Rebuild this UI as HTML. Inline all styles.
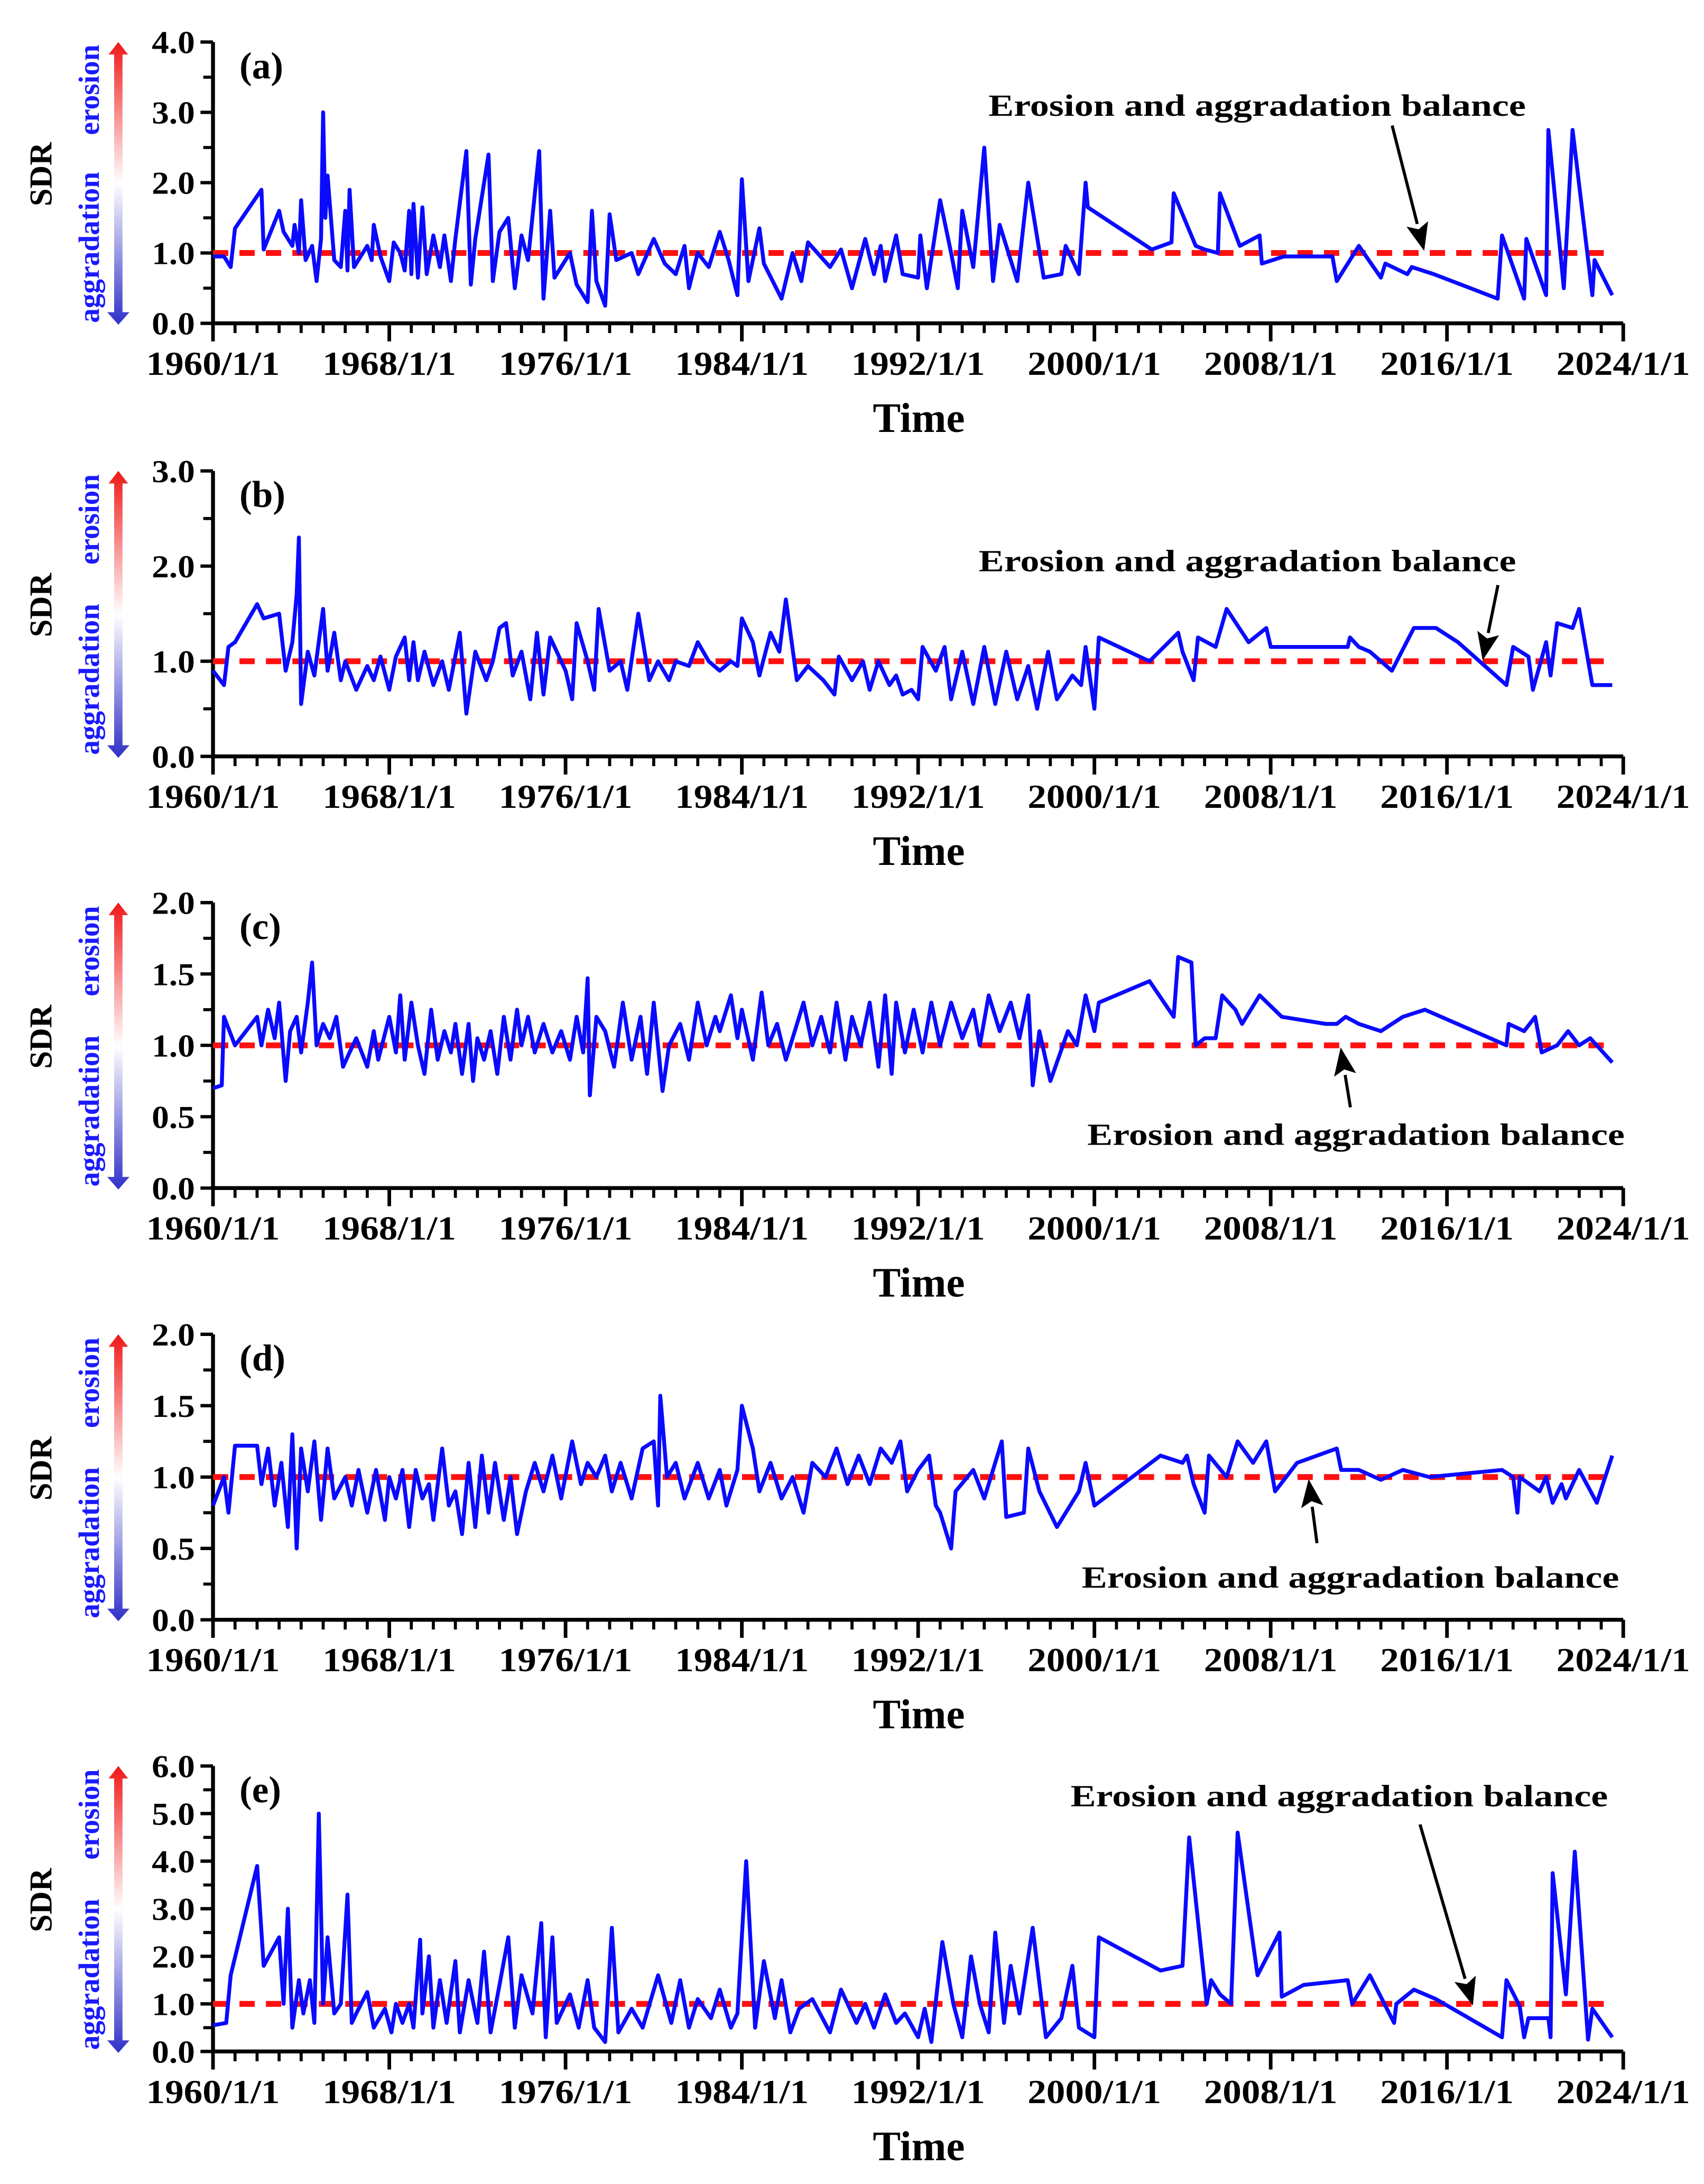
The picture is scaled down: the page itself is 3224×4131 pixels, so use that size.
<!DOCTYPE html>
<html><head><meta charset="utf-8">
<style>
html,body{margin:0;padding:0;background:#fff;}
svg{display:block;}
text{font-family:"Liberation Serif",serif;font-weight:bold;}
</style></head>
<body>
<svg id="chart" width="3224" height="4131" viewBox="0 0 1224 1568" xmlns="http://www.w3.org/2000/svg">
<defs>
<linearGradient id="arrGrad" x1="0" y1="0" x2="0" y2="1">
<stop offset="0" stop-color="#f01818"/><stop offset="0.5" stop-color="#ffffff"/><stop offset="1" stop-color="#3030c8"/>
</linearGradient>
</defs>
</svg>
<script>
// ---- data ----
const xTickLabels = ["1960/1/1","1968/1/1","1976/1/1","1984/1/1","1992/1/1","2000/1/1","2008/1/1","2016/1/1","2024/1/1"];
const xTickYears = [1960,1968,1976,1984,1992,2000,2008,2016,2024];
const panelLabels = ["(a)","(b)","(c)","(d)","(e)"];
const yMaxes = [4,3,2,2,6];
const yTickLabelsA = ["0.0","1.0","2.0","3.0","4.0"];
const yTickLabelsB = ["0.0","1.0","2.0","3.0"];
const yTickLabelsC = ["0.0","0.5","1.0","1.5","2.0"];
const yTickLabelsD = ["0.0","0.5","1.0","1.5","2.0"];
const yTickLabelsE = ["0.0","1.0","2.0","3.0","4.0","5.0","6.0"];
const balance = 1.0;

const seriesA = [[1960,0.95],[1960.5,0.95],[1960.8,0.8],[1961,1.35],[1962.2,1.9],[1962.3,1.05],[1963,1.6],[1963.2,1.3],[1963.6,1.1],[1963.7,1.4],[1963.9,1.0],[1964,1.75],[1964.2,0.9],[1964.5,1.1],[1964.7,0.6],[1964.9,1.2],[1965,3.0],[1965.1,1.5],[1965.2,2.1],[1965.5,0.9],[1965.8,0.8],[1966,1.6],[1966.1,0.75],[1966.2,1.9],[1966.4,0.8],[1967,1.1],[1967.2,0.9],[1967.3,1.4],[1967.6,0.95],[1968,0.6],[1968.2,1.15],[1968.5,1.0],[1968.7,0.75],[1968.9,1.6],[1969,0.7],[1969.1,1.7],[1969.3,0.65],[1969.5,1.65],[1969.7,0.7],[1970,1.25],[1970.3,0.8],[1970.5,1.25],[1970.8,0.6],[1971,1.2],[1971.5,2.45],[1971.7,0.55],[1971.9,1.2],[1972.5,2.4],[1972.7,0.6],[1973,1.3],[1973.4,1.5],[1973.7,0.5],[1974,1.25],[1974.3,0.9],[1974.8,2.45],[1975,0.35],[1975.3,1.6],[1975.5,0.65],[1976.2,1.0],[1976.5,0.55],[1977,0.3],[1977.2,1.6],[1977.4,0.6],[1977.8,0.25],[1978,1.55],[1978.3,0.9],[1979,1.0],[1979.3,0.7],[1980,1.2],[1980.5,0.85],[1981,0.7],[1981.4,1.1],[1981.6,0.5],[1982,1.0],[1982.5,0.8],[1983,1.3],[1983.4,0.9],[1983.8,0.4],[1984,2.05],[1984.3,0.6],[1984.8,1.35],[1985,0.85],[1985.8,0.35],[1986.3,1.0],[1986.7,0.6],[1987,1.15],[1988,0.8],[1988.5,1.05],[1989,0.5],[1989.6,1.2],[1990,0.7],[1990.3,1.1],[1990.5,0.6],[1991,1.25],[1991.3,0.7],[1992,0.65],[1992.1,1.25],[1992.4,0.5],[1993,1.75],[1993.5,1.0],[1993.8,0.5],[1994,1.6],[1994.5,0.8],[1995,2.5],[1995.4,0.6],[1995.7,1.4],[1996,1.1],[1996.5,0.6],[1997,2.0],[1997.7,0.65],[1998.5,0.7],[1998.7,1.1],[1999.3,0.7],[1999.6,2.0],[1999.7,1.65],[2002.6,1.05],[2003.5,1.15],[2003.6,1.85],[2004.6,1.1],[2005,1.05],[2005.6,1.0],[2005.7,1.85],[2006.6,1.1],[2007.5,1.25],[2007.6,0.85],[2008.6,0.95],[2010.8,0.95],[2011,0.6],[2012,1.1],[2013,0.65],[2013.2,0.85],[2014.2,0.7],[2014.4,0.8],[2015.4,0.7],[2018.3,0.35],[2018.5,1.25],[2019.5,0.35],[2019.6,1.2],[2020.5,0.4],[2020.6,2.75],[2021.3,0.5],[2021.7,2.75],[2022.6,0.4],[2022.7,0.9],[2023.5,0.4]];

const seriesB = [[1960,0.9],[1960.5,0.75],[1960.7,1.15],[1961,1.2],[1962,1.6],[1962.3,1.45],[1963,1.5],[1963.3,0.9],[1963.6,1.2],[1963.8,1.7],[1963.9,2.3],[1964,0.55],[1964.3,1.1],[1964.6,0.85],[1965,1.55],[1965.2,0.9],[1965.5,1.3],[1965.8,0.8],[1966,1.0],[1966.5,0.7],[1967,0.95],[1967.3,0.8],[1967.6,1.05],[1968,0.7],[1968.3,1.05],[1968.7,1.25],[1968.9,0.8],[1969.1,1.2],[1969.3,0.8],[1969.6,1.1],[1970,0.75],[1970.4,1.0],[1970.7,0.7],[1971.2,1.3],[1971.5,0.45],[1971.9,1.1],[1972.4,0.8],[1972.7,1.0],[1973,1.35],[1973.3,1.4],[1973.6,0.85],[1974,1.1],[1974.4,0.6],[1974.7,1.3],[1975,0.65],[1975.3,1.25],[1976,0.9],[1976.3,0.6],[1976.5,1.4],[1977,1.0],[1977.3,0.7],[1977.5,1.55],[1978,0.9],[1978.5,1.0],[1978.8,0.7],[1979.3,1.5],[1979.8,0.8],[1980.2,1.0],[1980.7,0.8],[1981,1.0],[1981.6,0.95],[1982,1.2],[1982.5,1.0],[1983,0.9],[1983.5,1.0],[1983.8,0.95],[1984,1.45],[1984.5,1.2],[1984.8,0.85],[1985.3,1.3],[1985.7,1.1],[1986,1.65],[1986.5,0.8],[1987,0.95],[1987.7,0.8],[1988.2,0.65],[1988.4,1.05],[1989,0.8],[1989.5,1.0],[1989.8,0.7],[1990.2,1.0],[1990.7,0.75],[1991,0.85],[1991.3,0.65],[1991.7,0.7],[1992,0.6],[1992.2,1.15],[1992.8,0.9],[1993.2,1.15],[1993.5,0.6],[1994,1.1],[1994.5,0.55],[1995,1.15],[1995.5,0.55],[1996,1.1],[1996.5,0.6],[1997,0.95],[1997.4,0.5],[1997.9,1.1],[1998.3,0.6],[1999,0.85],[1999.4,0.75],[1999.6,1.15],[2000,0.5],[2000.2,1.25],[2002.5,1.0],[2003.8,1.3],[2004,1.1],[2004.5,0.8],[2004.7,1.25],[2005.5,1.15],[2006,1.55],[2007,1.2],[2007.8,1.35],[2008,1.15],[2011.5,1.15],[2011.6,1.25],[2012,1.15],[2012.5,1.1],[2013.5,0.9],[2014.5,1.35],[2015.5,1.35],[2016.5,1.2],[2018.7,0.75],[2019,1.15],[2019.7,1.05],[2019.9,0.7],[2020.5,1.2],[2020.7,0.85],[2021,1.4],[2021.7,1.35],[2022,1.55],[2022.6,0.75],[2023.5,0.75]];

const seriesC = [[1960,0.7],[1960.4,0.72],[1960.5,1.2],[1961,1.0],[1961.5,1.1],[1962,1.2],[1962.2,1.0],[1962.5,1.25],[1962.8,1.05],[1963,1.3],[1963.3,0.75],[1963.5,1.1],[1963.8,1.2],[1964,0.95],[1964.3,1.3],[1964.5,1.58],[1964.7,1.0],[1965,1.15],[1965.3,1.05],[1965.6,1.2],[1965.9,0.85],[1966.2,0.95],[1966.5,1.05],[1967,0.85],[1967.3,1.1],[1967.5,0.9],[1968,1.2],[1968.3,0.95],[1968.5,1.35],[1968.7,0.9],[1969,1.3],[1969.3,1.0],[1969.6,0.8],[1969.9,1.25],[1970.2,0.9],[1970.5,1.1],[1970.8,0.95],[1971,1.15],[1971.3,0.8],[1971.6,1.15],[1971.8,0.75],[1972,1.05],[1972.3,0.9],[1972.6,1.1],[1972.9,0.8],[1973.2,1.2],[1973.5,0.9],[1973.8,1.25],[1974,1.0],[1974.3,1.2],[1974.6,0.95],[1975,1.15],[1975.4,0.95],[1975.8,1.1],[1976.2,0.9],[1976.5,1.2],[1976.8,0.95],[1977,1.47],[1977.1,0.65],[1977.4,1.2],[1977.8,1.1],[1978.2,0.85],[1978.6,1.3],[1979,0.9],[1979.4,1.2],[1979.7,0.8],[1980,1.3],[1980.4,0.68],[1980.7,1.0],[1981.2,1.15],[1981.6,0.9],[1982,1.3],[1982.4,1.0],[1982.8,1.2],[1983,1.1],[1983.5,1.35],[1983.8,1.05],[1984,1.25],[1984.5,0.9],[1984.9,1.37],[1985.2,1.0],[1985.6,1.15],[1986,0.9],[1986.4,1.1],[1986.8,1.3],[1987.2,1.0],[1987.6,1.2],[1988,0.95],[1988.3,1.3],[1988.7,0.9],[1989,1.2],[1989.4,1.0],[1989.8,1.3],[1990.2,0.85],[1990.5,1.35],[1990.8,0.8],[1991,1.3],[1991.4,0.95],[1991.8,1.25],[1992.2,0.95],[1992.6,1.3],[1993,1.0],[1993.5,1.3],[1994,1.05],[1994.5,1.25],[1994.8,1.0],[1995.2,1.35],[1995.7,1.1],[1996.2,1.3],[1996.6,1.05],[1997,1.35],[1997.2,0.72],[1997.5,1.1],[1998,0.75],[1998.8,1.1],[1999.2,1.0],[1999.6,1.35],[2000,1.1],[2000.2,1.3],[2002.5,1.45],[2003.6,1.2],[2003.8,1.62],[2004.4,1.58],[2004.6,1.0],[2005,1.05],[2005.5,1.05],[2005.8,1.35],[2006.4,1.25],[2006.7,1.15],[2007.5,1.35],[2008.5,1.2],[2010.5,1.15],[2011,1.15],[2011.4,1.2],[2012,1.15],[2013,1.1],[2014,1.2],[2015,1.25],[2018.7,1.0],[2018.8,1.15],[2019.5,1.1],[2020,1.2],[2020.3,0.95],[2021,1.0],[2021.5,1.1],[2022,1.0],[2022.5,1.05],[2023.5,0.88]];

const seriesD = [[1960,0.8],[1960.5,1.0],[1960.7,0.75],[1961,1.22],[1962,1.22],[1962.2,0.95],[1962.5,1.2],[1962.8,0.8],[1963.1,1.1],[1963.4,0.65],[1963.6,1.3],[1963.8,0.5],[1964,1.2],[1964.3,0.9],[1964.6,1.25],[1964.9,0.7],[1965.2,1.2],[1965.5,0.85],[1966,1.0],[1966.3,0.8],[1966.6,1.05],[1967,0.75],[1967.4,1.05],[1967.8,0.7],[1968,1.0],[1968.3,0.85],[1968.6,1.05],[1968.9,0.65],[1969.2,1.05],[1969.5,0.85],[1969.8,0.95],[1970,0.7],[1970.4,1.2],[1970.7,0.8],[1971,0.9],[1971.3,0.6],[1971.6,1.1],[1971.9,0.65],[1972.2,1.15],[1972.5,0.75],[1972.8,1.1],[1973.2,0.7],[1973.5,1.0],[1973.8,0.6],[1974.2,0.9],[1974.6,1.1],[1975,0.9],[1975.4,1.15],[1975.8,0.85],[1976.3,1.25],[1976.7,0.95],[1977,1.1],[1977.4,1.0],[1977.8,1.15],[1978.1,0.9],[1978.5,1.1],[1979,0.85],[1979.5,1.2],[1980,1.25],[1980.2,0.8],[1980.3,1.57],[1980.6,1.0],[1981,1.1],[1981.4,0.85],[1982,1.1],[1982.5,0.85],[1983,1.05],[1983.3,0.8],[1983.8,1.05],[1984,1.5],[1984.5,1.2],[1984.8,0.9],[1985.3,1.1],[1985.8,0.85],[1986.3,1.0],[1986.8,0.75],[1987.2,1.1],[1987.8,1.0],[1988.3,1.2],[1988.8,0.95],[1989.3,1.15],[1989.8,0.95],[1990.3,1.2],[1990.8,1.1],[1991.2,1.25],[1991.5,0.9],[1992,1.05],[1992.5,1.15],[1992.8,0.8],[1993,0.75],[1993.5,0.5],[1993.7,0.9],[1994.5,1.05],[1995,0.85],[1995.8,1.25],[1996,0.72],[1996.8,0.75],[1997,1.2],[1997.5,0.9],[1998.3,0.65],[1999.3,0.9],[1999.6,1.1],[2000,0.8],[2003,1.15],[2004,1.1],[2004.2,1.15],[2004.5,0.95],[2005,0.75],[2005.2,1.15],[2006,1.0],[2006.5,1.25],[2007.2,1.1],[2007.8,1.25],[2008.2,0.9],[2009.2,1.1],[2011,1.2],[2011.2,1.05],[2012,1.05],[2013,0.98],[2014,1.05],[2015.2,1.0],[2018.5,1.05],[2019,1.0],[2019.2,0.75],[2019.3,1.0],[2020.2,0.9],[2020.5,1.0],[2020.8,0.82],[2021.2,0.95],[2021.4,0.85],[2022,1.05],[2022.8,0.82],[2023.5,1.15]];

const seriesE = [[1960,0.55],[1960.6,0.6],[1960.8,1.6],[1962,3.9],[1962.3,1.8],[1963,2.4],[1963.2,1.0],[1963.4,3.0],[1963.6,0.5],[1963.9,1.5],[1964.1,0.8],[1964.4,1.5],[1964.6,0.6],[1964.8,5.0],[1965,1.0],[1965.2,2.4],[1965.5,0.8],[1965.8,1.0],[1966.1,3.3],[1966.3,0.6],[1966.5,0.8],[1967,1.25],[1967.3,0.5],[1967.8,0.9],[1968.1,0.4],[1968.3,1.0],[1968.6,0.6],[1968.9,1.0],[1969.1,0.5],[1969.4,2.35],[1969.5,0.8],[1969.8,2.0],[1970,0.5],[1970.3,1.5],[1970.6,0.6],[1971,1.9],[1971.2,0.4],[1971.6,1.5],[1972,0.6],[1972.3,2.1],[1972.6,0.4],[1973,1.4],[1973.4,2.4],[1973.7,0.5],[1974,1.6],[1974.5,0.8],[1974.9,2.7],[1975.1,0.3],[1975.4,2.4],[1975.6,0.6],[1976.2,1.2],[1976.6,0.5],[1977,1.5],[1977.3,0.5],[1977.8,0.2],[1978.1,2.6],[1978.4,0.4],[1979,0.9],[1979.5,0.5],[1980.2,1.6],[1980.8,0.6],[1981.2,1.5],[1981.6,0.5],[1982,1.1],[1982.6,0.7],[1983,1.3],[1983.5,0.5],[1983.8,0.8],[1984.2,4.0],[1984.6,0.5],[1985,1.9],[1985.5,0.7],[1985.8,1.5],[1986.2,0.4],[1986.6,0.9],[1987.2,1.1],[1988,0.4],[1988.5,1.3],[1989.2,0.6],[1989.6,1.0],[1990,0.5],[1990.5,1.2],[1991,0.6],[1991.4,0.8],[1992,0.3],[1992.3,0.9],[1992.6,0.2],[1993.1,2.3],[1993.6,1.0],[1994,0.3],[1994.4,2.0],[1994.8,1.0],[1995.2,0.4],[1995.5,2.5],[1995.9,0.6],[1996.2,1.8],[1996.6,0.8],[1997.2,2.6],[1997.8,0.3],[1998.5,0.7],[1999,1.8],[1999.3,0.5],[2000,0.3],[2000.2,2.4],[2003,1.7],[2004,1.8],[2004.3,4.5],[2005.1,1.0],[2005.3,1.5],[2005.7,1.2],[2006.2,1.0],[2006.5,4.6],[2007.4,1.6],[2008.4,2.5],[2008.5,1.15],[2009.5,1.4],[2011.5,1.5],[2011.7,1.0],[2012.5,1.6],[2013.6,0.6],[2013.7,1.0],[2014.5,1.3],[2015.5,1.1],[2018.5,0.3],[2018.7,1.5],[2019.3,0.95],[2019.5,0.3],[2019.7,0.7],[2020.6,0.7],[2020.7,0.3],[2020.8,3.75],[2021.4,1.2],[2021.8,4.2],[2022.4,0.25],[2022.6,0.9],[2023.5,0.3]];

// ---- layout ----
const allSeries=[seriesA,seriesB,seriesC,seriesD,seriesE];
const allYTicks=[yTickLabelsA,yTickLabelsB,yTickLabelsC,yTickLabelsD,yTickLabelsE];
const panelBottoms=[232,543,853,1163,1473];
const panelHeights=[202,205,205,205,205];
const annotations=[
 {tx:710,ty:83,ax1:1000,ay1:90,ax2:1023,ay2:180},
 {tx:703,ty:410,ax1:1076,ay1:420,ax2:1065,ay2:474},
 {tx:781,ty:822,ax1:970,ay1:795,ax2:963,ay2:752},
 {tx:777,ty:1140,ax1:946,ay1:1108,ax2:940,ay2:1062},
 {tx:769,ty:1297,ax1:1020,ay1:1310,ax2:1058,ay2:1440}
];
const X0=153,X1=1166;
const NS="http://www.w3.org/2000/svg";
const svg=document.getElementById('chart');
function mk(tag,attrs,parent){const e=document.createElementNS(NS,tag);for(const k in attrs)e.setAttribute(k,attrs[k]);(parent||svg).appendChild(e);return e;}
function xs(yr){return X0+(yr-1960)/(2024-1960)*(X1-X0);}

allSeries.forEach((ser,i)=>{
  const yB=panelBottoms[i],H=panelHeights[i],yT=yB-H,ymax=yMaxes[i];
  const ys=v=>yB-v/ymax*H;
  const g=mk('g',{});
  
  
  const ar=mk('path',{d:`M82,${yT+8} h6 V${yB-8} h5 l-8,9 l-8,-9 h5 Z M78,${yT+9} l7,-9 l7,9 Z`,fill:'url(#arrGrad)'},g);
  
  
  const mid=yT+H*0.47;
  const er=mk('text',{x:0,y:0,'font-size':21,fill:'#1a1aff','text-anchor':'middle',transform:`translate(71,${yT+H*0.17}) rotate(-90)`,'font-weight':'normal'},g);
  er.textContent='erosion';
  
  
  const ag=mk('text',{x:0,y:0,'font-size':21,fill:'#1a1aff','text-anchor':'middle',transform:`translate(71,${yT+H*0.73}) rotate(-90)`,'font-weight':'normal'},g);
  ag.textContent='aggradation';
  
  
  const sd=mk('text',{x:0,y:0,'font-size':23,fill:'#000','text-anchor':'middle',transform:`translate(37,${mid}) rotate(-90)`},g);
  sd.textContent='SDR';
  
  
  const labs=allYTicks[i];
  const step=ymax/(labs.length-1);
  for(let k=0;k<labs.length;k++){
    const v=k*step,y=ys(v);
    mk('line',{x1:X0-9,x2:X0,y1:y,y2:y,stroke:'#000','stroke-width':2.4},g);
    const t=mk('text',{x:X0-13,y:y+8,'font-size':23,'text-anchor':'end',fill:'#000',textLength:31,lengthAdjust:'spacingAndGlyphs'},g);
    t.textContent=labs[k];
    
    
    if(k<labs.length-1){const ym=ys(v+step/2);mk('line',{x1:X0-7,x2:X0,y1:ym,y2:ym,stroke:'#000','stroke-width':2.2},g);}
  }
  for(let yr=1960;yr<=2024;yr++){
    const major=(yr-1960)%8===0,x=xs(yr);
    mk('line',{x1:x,x2:x,y1:yB,y2:yB+(major?13:7),stroke:'#000','stroke-width':major?2.6:2.2},g);
  }
  xTickLabels.forEach((lab,k)=>{
    const t=mk('text',{x:xs(xTickYears[k]),y:yB+37,'font-size':24,'text-anchor':'middle',fill:'#000',textLength:96,lengthAdjust:'spacingAndGlyphs'},g);
    t.textContent=lab;
    
    
  });
  const tt=mk('text',{x:660,y:yB+78,'font-size':30,'text-anchor':'middle',fill:'#000'},g);
  tt.textContent='Time';
  
  
  const ax=mk('path',{d:`M${X0},${yT} V${yB} H${X1}`,fill:'none',stroke:'#000','stroke-width':2.8},g);
  
  
  const bl=mk('line',{x1:X0,x2:X1-6,y1:ys(balance),y2:ys(balance),stroke:'#ff1010','stroke-width':4.2,'stroke-dasharray':'11,8'},g);
  
  
  const pts=ser.map(p=>xs(p[0]).toFixed(1)+','+ys(p[1]).toFixed(1)).join(' ');
  const pl=mk('polyline',{points:pts,fill:'none',stroke:'#0a0aff','stroke-width':2.8,'stroke-linejoin':'round'},g);
  
  
  const pt=mk('text',{x:172,y:yT+26,'font-size':27,fill:'#000'},g);
  pt.textContent=panelLabels[i];
  
  
  const a=annotations[i];
  const at=mk('text',{x:a.tx,y:a.ty,'font-size':22,fill:'#000',textLength:386,lengthAdjust:'spacingAndGlyphs'},g);
  at.textContent='Erosion and aggradation balance';
  
  
  const dx=a.ax2-a.ax1,dy=a.ay2-a.ay1,L=Math.hypot(dx,dy),ux=dx/L,uy=dy/L;
  const bx=a.ax2-ux*20,by=a.ay2-uy*20;
  mk('line',{x1:a.ax1,y1:a.ay1,x2:bx,y2:by,stroke:'#000','stroke-width':2.2},g);
  const ah=mk('path',{d:`M${a.ax2},${a.ay2} L${bx-uy*8},${by+ux*8} L${bx+ux*4},${by+uy*4} L${bx+uy*8},${by-ux*8} Z`,fill:'#000'},g);
  
  
});
</script>
</body></html>
